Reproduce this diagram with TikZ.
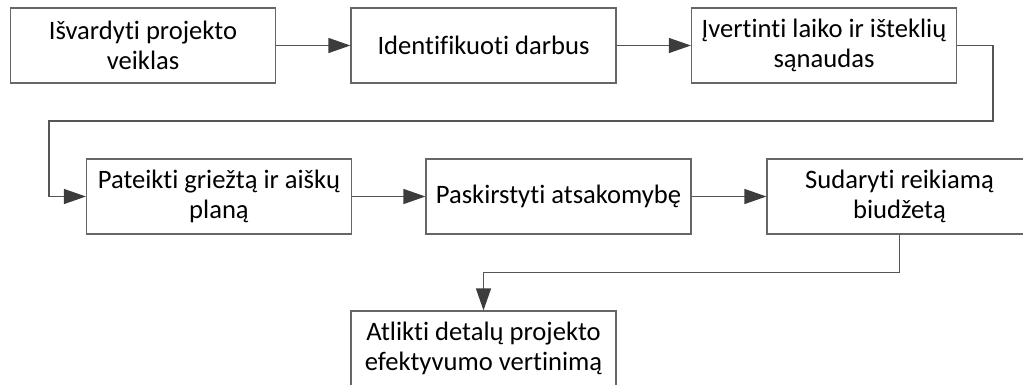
\documentclass[tikz,border=0pt]{standalone}
\usepackage{fontspec}
\setmainfont{Carlito}[Ligatures=NoCommon]
\usetikzlibrary{arrows.meta}
\definecolor{boxline}{HTML}{666666}
\definecolor{connc}{HTML}{555555}
\definecolor{tipc}{HTML}{3C3C3C}
\begin{document}
\begin{tikzpicture}[x=1pt,y=-1pt,
  stepbox/.style={draw=boxline, line width=1.2pt, minimum width=265pt, minimum height=75pt,
    inner sep=0pt, align=center, font=\fontsize{26.6}{29.5}\selectfont, text=black},
  conn/.style={draw=connc, line width=1.3pt,
    -{Triangle[length=22pt,width=15pt,color=tipc,fill=tipc]}}]
\useasboundingbox (0,0) rectangle (1023,385);
\clip (0,0) rectangle (1023,385);
\node[stepbox] (b1) at (143,45.5) {Išvardyti projekto\\veiklas};
\node[stepbox] (b2) at (483.5,45.5) {Identifikuoti darbus};
\node[stepbox] (b3) at (824,45.5) {Įvertinti laiko ir išteklių\\sąnaudas};
\node[stepbox] (b4) at (219,196.5) {Pateikti griežtą ir aiškų\\planą};
\node[stepbox] (b5) at (558.5,196.5) {Paskirstyti atsakomybę};
\node[stepbox] (b6) at (899.5,196.5) {Sudaryti reikiamą\\biudžetą};
\node[stepbox] (b7) at (483.5,348.5) {Atlikti detalų projekto\\efektyvumo vertinimą};
\coordinate (r1) at (993,121);
\coordinate (l1) at (49,121);
\coordinate (m1) at (899.5,272.5);
\draw[conn] (b1) -- (b2);
\draw[conn] (b2) -- (b3);
\draw[conn] (b3.east) -| (r1) -- (l1) |- (b4.west);
\draw[conn] (b4) -- (b5);
\draw[conn] (b5) -- (b6);
\draw[conn] (b6.south) -- (m1) -| (b7.north);
\end{tikzpicture}
\end{document}
